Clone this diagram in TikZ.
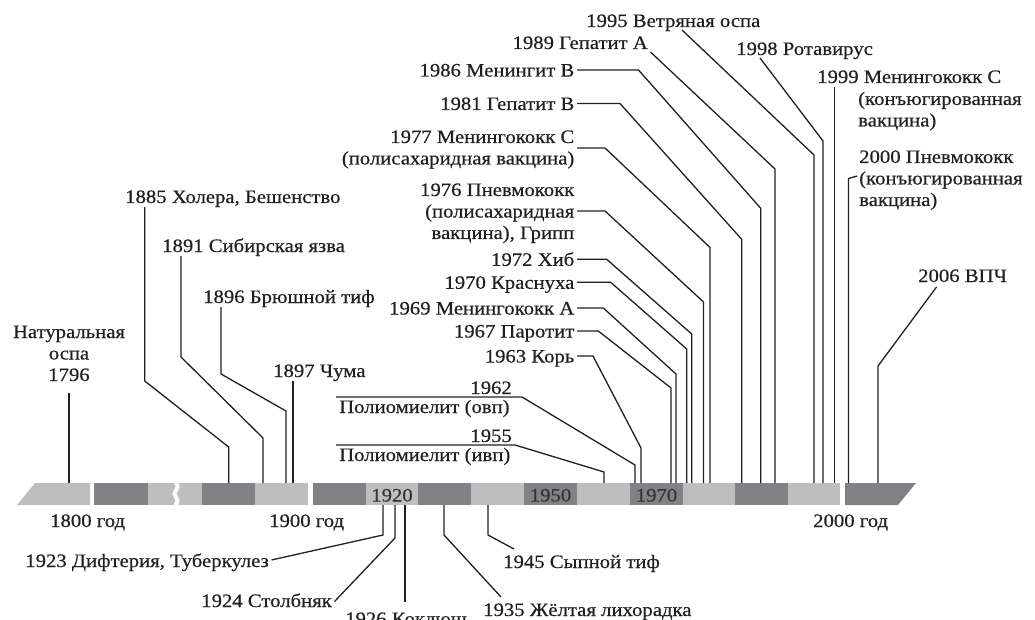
\documentclass[tikz,border=0pt]{standalone}
\usepackage{fontspec}
\setmainfont{Liberation Serif}[FakeStretch=1.09,FakeBold=0.5]
\definecolor{lightbar}{HTML}{BCBEC0}
\definecolor{darkbar}{HTML}{808285}
\definecolor{ink}{HTML}{231F20}
\definecolor{barink}{HTML}{333333}
\begin{document}
\begin{tikzpicture}[x=1pt,y=-1pt,
  lab/.style={inner xsep=2.5pt,inner ysep=0pt,text=ink,font=\fontsize{19}{21.5}\selectfont},
  lead/.style={draw=ink,line width=1.3pt},
  lseg/.style={fill=lightbar},
  dseg/.style={fill=darkbar},
  barlab/.style={inner sep=0pt,anchor=base,text=barink,font=\fontsize{19}{21.5}\selectfont}]
\useasboundingbox (0,0) rectangle (1035,620);
% ---------------- bar ----------------
\fill[lseg] (17,505) -- (35,483) -- (90,483) -- (90,505) -- cycle;
\fill[dseg] (94,483) rectangle (148,505);
\fill[lseg] (148,483) rectangle (202,505);
\draw[white,line width=4pt] plot[smooth] coordinates {(175,481) (177.5,487) (174.5,494) (177.5,500) (175,507)};
\fill[dseg] (202,483) rectangle (255,505);
\fill[lseg] (255,483) rectangle (308,505);
\fill[dseg] (313,483) rectangle (366,505);
\fill[lseg] (366,483) rectangle (418,505);
\fill[dseg] (418,483) rectangle (471,505);
\fill[lseg] (471,483) rectangle (524,505);
\fill[dseg] (524,483) rectangle (577,505);
\fill[lseg] (577,483) rectangle (630,505);
\fill[dseg] (630,483) rectangle (683,505);
\fill[lseg] (683,483) rectangle (735,505);
\fill[dseg] (735,483) rectangle (788,505);
\fill[lseg] (788,483) rectangle (840,505);
\fill[dseg] (845,483) -- (916,483) -- (898,505) -- (845,505) -- cycle;
\node[barlab] (y1920) at (392,501.5) {1920};
\node[barlab] (y1950) at (550.5,501.5) {1950};
\node[barlab] (y1970) at (656.5,501.5) {1970};
% ---------------- axis labels ----------------
\node[lab,anchor=base west] (a1800) at (47.5,527) {1800 год};
\node[lab,anchor=base west] (a1900) at (266.5,527) {1900 год};
\node[lab,anchor=base west] (a2000) at (810.5,527) {2000 год};
% ---------------- upper left ----------------
\node[lab,anchor=base,align=center] (nat) at (69,381) {Натуральная\\оспа\\1796};
\coordinate (t1796) at (69,483);
\draw[lead] ([yshift=-12pt]nat.south) -- (t1796);

\node[lab,anchor=base west] (l1885) at (122.5,203) {1885 Холера, Бешенство};
\coordinate (b1885a) at (144.7,381); \coordinate (b1885b) at (228.7,447); \coordinate (t1885) at (228.7,483);
\draw[lead] (l1885.south -| b1885a) -- (b1885a) -- (b1885b) -- (t1885);

\node[lab,anchor=base west] (l1891) at (159.5,252) {1891 Сибирская язва};
\coordinate (b1891a) at (181,357); \coordinate (b1891b) at (263,438); \coordinate (t1891) at (263,483);
\draw[lead] (l1891.south -| b1891a) -- (b1891a) -- (b1891b) -- (t1891);

\node[lab,anchor=base west] (l1896) at (200.5,303) {1896 Брюшной тиф};
\coordinate (b1896a) at (221,374); \coordinate (b1896b) at (286,411); \coordinate (t1896) at (286,483);
\draw[lead] (l1896.south -| b1896a) -- (b1896a) -- (b1896b) -- (t1896);

\node[lab,anchor=base west] (l1897) at (270.5,377) {1897 Чума};
\coordinate (t1897) at (293,483);
\draw[lead] (l1897.south -| t1897) -- (t1897);
% ---------------- polio ----------------
\node[lab,anchor=base east] (l1962) at (514.5,394) {1962};
\node[lab,anchor=base west] (l1962t) at (336.5,413) {Полиомиелит (овп)};
\coordinate (p1962) at (336,397); \coordinate (c1962) at (522,397);
\coordinate (b1962) at (635,465); \coordinate (t1962) at (635,483);
\draw[lead] (p1962) -- (c1962) -- (b1962) -- (t1962);

\node[lab,anchor=base east] (l1955) at (514.5,442) {1955};
\node[lab,anchor=base west] (l1955t) at (336.5,461) {Полиомиелит (ивп)};
\coordinate (p1955) at (336,445); \coordinate (c1955) at (515,445);
\coordinate (b1955) at (604,472); \coordinate (t1955) at (604,483);
\draw[lead] (p1955) -- (c1955) -- (b1955) -- (t1955);
% ---------------- right-aligned column ----------------
\node[lab,anchor=base east] (l1963) at (577,362.5) {1963 Корь};
\coordinate (b1963) at (641,448); \coordinate (t1963) at (641,483);
\draw[lead] ([yshift=6.5pt]l1963.base east) -- ++(16,0) -- (b1963) -- (t1963);

\node[lab,anchor=base east] (l1967) at (577,337.5) {1967 Паротит};
\coordinate (b1967) at (671,388); \coordinate (t1967) at (671,483);
\draw[lead] ([yshift=6.5pt]l1967.base east) -- ++(21.3,0) -- (b1967) -- (t1967);

\node[lab,anchor=base east] (l1969) at (577,314.5) {1969 Менингококк А};
\coordinate (b1969) at (676,374); \coordinate (t1969) at (676,483);
\draw[lead] ([yshift=6.5pt]l1969.base east) -- ++(26.3,0) -- (b1969) -- (t1969);

\node[lab,anchor=base east] (l1970) at (577,288.8) {1970 Краснуха};
\coordinate (b1970) at (686.7,349); \coordinate (t1970) at (686.7,483);
\draw[lead] ([yshift=6.5pt]l1970.base east) -- ++(33.7,0) -- (b1970) -- (t1970);

\node[lab,anchor=base east] (l1972) at (577,265.8) {1972 Хиб};
\coordinate (b1972) at (691.7,334); \coordinate (t1972) at (691.7,483);
\draw[lead] ([yshift=6.5pt]l1972.base east) -- ++(29.7,0) -- (b1972) -- (t1972);

\node[lab,anchor=base east,align=right] (l1976) at (577,239) {1976 Пневмококк\\(полисахаридная\\вакцина), Грипп};
\coordinate (b1976) at (703.5,302); \coordinate (t1976) at (703.5,483);
\draw[lead] ([yshift=28pt]l1976.base east) -- ++(28,0) -- (b1976) -- (t1976);

\node[lab,anchor=base east,align=right] (l1977) at (577,164.5) {1977 Менингококк С\\(полисахаридная вакцина)};
\coordinate (b1977) at (710,247.5); \coordinate (t1977) at (710,483);
\draw[lead] ([yshift=16.5pt]l1977.base east) -- ++(28,0) -- (b1977) -- (t1977);

\node[lab,anchor=base east] (l1981) at (577,110) {1981 Гепатит В};
\coordinate (b1981) at (741.7,239.3); \coordinate (t1981) at (741.7,483);
\draw[lead] ([yshift=6.5pt]l1981.base east) -- ++(43,0) -- (b1981) -- (t1981);

\node[lab,anchor=base east] (l1986) at (577,76.5) {1986 Менингит В};
\coordinate (b1986) at (760.7,208.3); \coordinate (t1986) at (760.7,483);
\draw[lead] ([yshift=6.5pt]l1986.base east) -- ++(61.5,0) -- (b1986) -- (t1986);
% ---------------- top ----------------
\node[lab,anchor=base east] (l1989) at (650.5,49) {1989 Гепатит А};
\coordinate (b1989) at (775,169); \coordinate (t1989) at (775,483);
\draw[lead] ([yshift=-3pt]l1989.base east) -- (b1989) -- (t1989);

\node[lab,anchor=base west] (l1995) at (583.5,27) {1995 Ветряная оспа};
\coordinate (s1995) at (682,30); \coordinate (b1995) at (814,155); \coordinate (t1995) at (814,483);
\draw[lead] (s1995) -- (b1995) -- (t1995);

\node[lab,anchor=base west] (l1998) at (733.5,55) {1998 Ротавирус};
\coordinate (s1998) at (760,58); \coordinate (b1998) at (823,141); \coordinate (t1998) at (823,483);
\draw[lead] (s1998) -- (b1998) -- (t1998);

\node[lab,anchor=base west] (l1999) at (814.5,83) {1999 Менингококк С};
\node[lab,anchor=base west,align=left] (l1999t) at (855.5,126.5) {(конъюгированная\\вакцина)};
\coordinate (t1999) at (834.5,483);
\draw[lead] ([yshift=-4pt]l1999.base west -| t1999) -- (t1999);

\node[lab,anchor=base west,align=left] (l2000) at (856.5,206) {2000 Пневмококк\\(конъюгированная\\вакцина)};
\coordinate (s2000) at (857,176); \coordinate (b2000) at (848.5,178.5); \coordinate (t2000) at (848.5,483);
\draw[lead] (s2000) -- (b2000) -- (t2000);

\node[lab,anchor=base west] (l2006) at (915.5,282) {2006 ВПЧ};
\coordinate (s2006) at (936.5,287); \coordinate (b2006) at (878,366); \coordinate (t2006) at (878,483);
\draw[lead] (s2006) -- (b2006) -- (t2006);
% ---------------- below the bar ----------------
\node[lab,anchor=base east] (l1923) at (271.5,567) {1923 Дифтерия, Туберкулез};
\coordinate (t1923) at (383,505); \coordinate (b1923) at (383,535);
\draw[lead] (t1923) -- (b1923) -- ([yshift=7pt]l1923.base east);

\node[lab,anchor=base east] (l1924) at (334.5,607) {1924 Столбняк};
\coordinate (t1924) at (395,505); \coordinate (b1924) at (395,538);
\draw[lead] (t1924) -- (b1924) -- ([yshift=5.5pt]l1924.base east);

\node[lab,anchor=base west] (l1926) at (342.5,625) {1926 Коклюш};
\coordinate (t1926) at (405,505); \coordinate (e1926) at (405,602);
\draw[lead] (t1926) -- (e1926);

\node[lab,anchor=base west] (l1935) at (480.5,616) {1935 Жёлтая лихорадка};
\coordinate (t1935) at (444,505); \coordinate (b1935) at (444,535); \coordinate (e1935) at (501,597);
\draw[lead] (t1935) -- (b1935) -- (e1935);

\node[lab,anchor=base west] (l1945) at (500.5,568) {1945 Сыпной тиф};
\coordinate (t1945) at (488,505); \coordinate (b1945) at (488,535); \coordinate (e1945) at (514,549);
\draw[lead] (t1945) -- (b1945) -- (e1945);
\end{tikzpicture}
\end{document}
